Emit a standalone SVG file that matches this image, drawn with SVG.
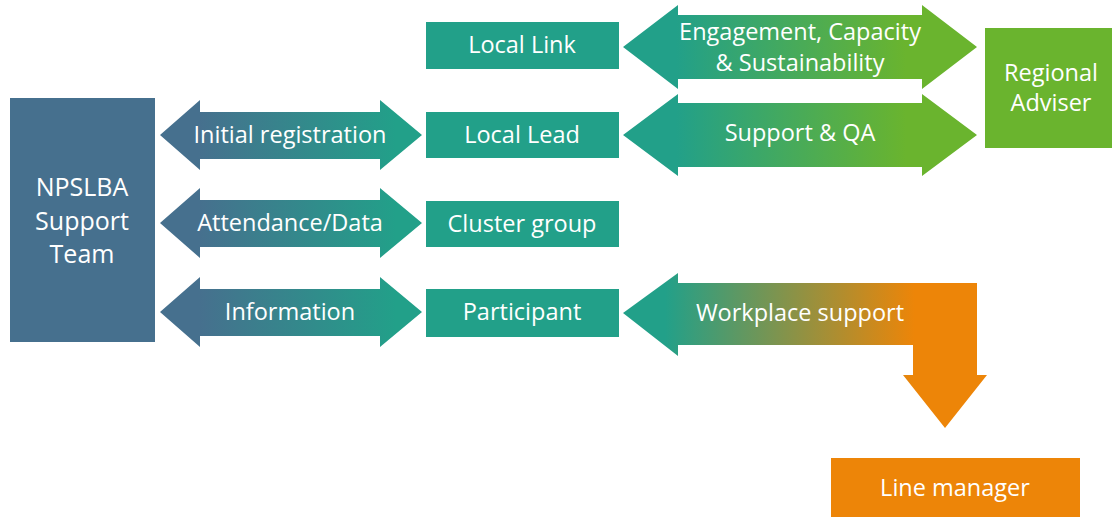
<svg xmlns="http://www.w3.org/2000/svg" width="1112" height="517" viewBox="0 0 1112 517">
  <defs>
    <linearGradient id="blueTeal" x1="0" y1="0" x2="1" y2="0">
      <stop offset="0.15" stop-color="#46708e"/>
      <stop offset="0.9" stop-color="#22a089"/>
    </linearGradient>
    <linearGradient id="tealGreen" x1="0" y1="0" x2="1" y2="0">
      <stop offset="0.15" stop-color="#22a089"/>
      <stop offset="0.8" stop-color="#6ab42e"/>
    </linearGradient>
    <linearGradient id="tealOrange" gradientUnits="userSpaceOnUse" x1="665" y1="0" x2="915" y2="0">
      <stop offset="0" stop-color="#22a089"/>
      <stop offset="1" stop-color="#ed8508"/>
    </linearGradient>
    <style>
      .lbl { font-family: "Open Sans", "Noto Sans", "Liberation Sans", sans-serif; font-size: 23.5px; fill: #ffffff; text-anchor: middle; }
      .big { font-size: 25px; }
      .teal { fill: #22a089; }
      .blue { fill: #46708e; }
      .green { fill: #6ab42e; }
      .orange { fill: #ed8508; }
    </style>
  </defs>

  <!-- left column -->
  <g id="npslba">
    <rect class="blue" x="10" y="98" width="145" height="244"/>
    <text class="lbl big" x="82" y="196">NPSLBA</text>
    <text class="lbl big" x="82" y="230">Support</text>
    <text class="lbl big" x="82" y="263">Team</text>
  </g>

  <!-- middle column -->
  <g id="local-link">
    <rect class="teal" x="426" y="22" width="193" height="47"/>
    <text class="lbl" x="522" y="53">Local Link</text>
  </g>
  <g id="local-lead">
    <rect class="teal" x="426" y="112" width="193" height="46"/>
    <text class="lbl" x="522" y="143">Local Lead</text>
  </g>
  <g id="cluster-group">
    <rect class="teal" x="426" y="201" width="193" height="46"/>
    <text class="lbl" x="522" y="232">Cluster group</text>
  </g>
  <g id="participant">
    <rect class="teal" x="426" y="289" width="193" height="48"/>
    <text class="lbl" x="522" y="320">Participant</text>
  </g>

  <!-- right column -->
  <g id="regional-adviser">
    <rect class="green" x="985" y="28" width="127" height="120"/>
    <text class="lbl" x="1051" y="81">Regional</text>
    <text class="lbl" x="1051" y="111">Adviser</text>
  </g>
  <g id="line-manager">
    <rect class="orange" x="831" y="458" width="249" height="59"/>
    <text class="lbl" x="955" y="496">Line manager</text>
  </g>

  <!-- connectors: block arrows -->
  <g id="connectors">
    <g id="initial-registration">
      <path fill="url(#blueTeal)" d="M160 135 L200 100 L200 112 L380 112 L380 100 L422 135 L380 170 L380 159 L200 159 L200 170 Z"/>
      <text class="lbl" x="290" y="143">Initial registration</text>
    </g>
    <g id="attendance-data">
      <path fill="url(#blueTeal)" d="M160 223 L200 188 L200 200 L380 200 L380 188 L422 223 L380 258 L380 247 L200 247 L200 258 Z"/>
      <text class="lbl" x="290" y="231">Attendance/Data</text>
    </g>
    <g id="information">
      <path fill="url(#blueTeal)" d="M160 312 L200 277 L200 289 L380 289 L380 277 L422 312 L380 347 L380 336 L200 336 L200 347 Z"/>
      <text class="lbl" x="290" y="320">Information</text>
    </g>
    <g id="engagement">
      <path fill="url(#tealGreen)" d="M623 47 L678 5 L678 15 L922 15 L922 5 L977 47 L922 89 L922 79 L678 79 L678 89 Z"/>
      <text class="lbl" x="800" y="40">Engagement, Capacity</text>
      <text class="lbl" x="800" y="71">&amp; Sustainability</text>
    </g>
    <g id="support-qa">
      <path fill="url(#tealGreen)" d="M623 135 L678 94 L678 103 L922 103 L922 94 L977 135 L922 176 L922 167 L678 167 L678 176 Z"/>
      <text class="lbl" x="800" y="141">Support &amp; QA</text>
    </g>
    <g id="workplace-support">
      <path fill="url(#tealOrange)" d="M623 313 L678 273 L678 283 L977 283 L977 375 L987 375 L945 428 L903 375 L913 375 L913 345 L678 345 L678 356 Z"/>
      <text class="lbl" x="800" y="321">Workplace support</text>
    </g>
  </g>
</svg>
